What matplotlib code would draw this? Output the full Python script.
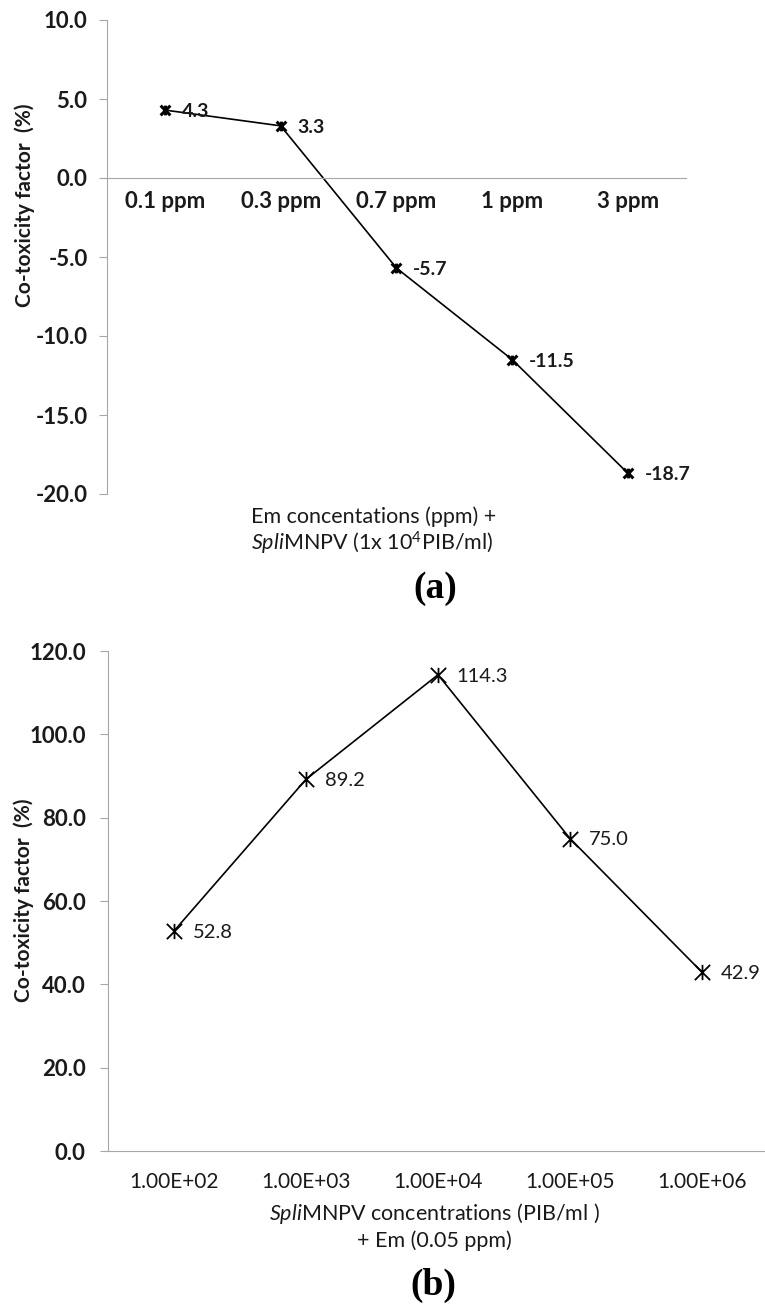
import numpy as np
import matplotlib
matplotlib.use("Agg")
import matplotlib.pyplot as plt
from matplotlib.path import Path

plt.rcParams['font.family'] = ['Lato', 'DejaVu Sans']
plt.rcParams['mathtext.fontset'] = 'custom'
plt.rcParams['mathtext.rm'] = 'Lato'
plt.rcParams['mathtext.it'] = 'Lato:italic'
plt.rcParams['mathtext.bf'] = 'Lato:bold'

# ---- data -------------------------------------------------------
em_labels = ["0.1 ppm", "0.3 ppm", "0.7 ppm", "1 ppm", "3 ppm"]
em_values = [4.3, 3.3, -5.7, -11.5, -18.7]

npv_labels = ["1.00E+02", "1.00E+03", "1.00E+04", "1.00E+05", "1.00E+06"]
npv_values = [52.8, 89.2, 114.3, 75.0, 42.9]

GREY = "#a6a6a6"
INK = "#1a1a1a"
W, H = 765, 1308

# Excel style star marker: an X with a vertical stroke through it
star = Path([(-1, -1), (1, 1), (-1, 1), (1, -1), (0, -1), (0, 1)],
            [Path.MOVETO, Path.LINETO, Path.MOVETO, Path.LINETO,
             Path.MOVETO, Path.LINETO])


def px_box(x0, y0, x1, y1):
    # pixel box (top-left origin) -> figure fraction rect
    return [x0 / W, 1 - y1 / H, (x1 - x0) / W, (y1 - y0) / H]


fig = plt.figure(figsize=(W / 100, H / 100), dpi=100)

# -------- PANEL (a) --------
ax1 = fig.add_axes(px_box(107, 20, 686, 494))
ax1.spines[["top", "right"]].set_visible(False)
ax1.spines["left"].set_color(GREY)
ax1.spines["bottom"].set_color(GREY)
ax1.spines["bottom"].set_position(("data", 0))

x = np.arange(len(em_values))
ax1.plot(x, em_values, color="black", lw=1.2, marker=star,
         markersize=7, markeredgewidth=2.2, markeredgecolor="black")
for xi, v in zip(x, em_values):
    ax1.annotate(f"{v:.1f}", (xi, v), xytext=(12, -1), textcoords="offset points",
                 ha="left", va="center", fontsize=14, fontweight="bold", color=INK)

ax1.set_xlim(-0.5, 4.5)
ax1.set_ylim(-20, 10)
yt = np.arange(-20, 10.1, 5)
ax1.set_yticks(yt)
ax1.set_yticklabels([f"{t:.1f}" for t in yt], fontsize=16, fontweight="bold", color=INK)
ax1.set_xticks(x)
ax1.set_xticklabels(em_labels, fontsize=16, fontweight="bold", color=INK)
ax1.tick_params(axis="x", length=0, pad=9)
ax1.tick_params(axis="y", length=6, color=GREY, pad=8)

fig.text(25 / W, 1 - 205 / H, "Co-toxicity factor  (%)", rotation=90,
         ha="center", va="center", fontsize=15, fontweight="bold", color=INK)
fig.text(374 / W, 1 - 517 / H, "Em concentations (ppm) +",
         ha="center", va="center", fontsize=15.5, color=INK)
fig.text(372 / W, 1 - 543 / H, r"$\it{Spli}$MNPV (1x 10$^{4}$PIB/ml)",
         ha="center", va="center", fontsize=15.5, color=INK)
fig.text(435 / W, 1 - 588 / H, "(a)", ha="center", va="center",
         fontsize=27, fontweight="bold", family="Liberation Serif")

# -------- PANEL (b) --------
ax2 = fig.add_axes(px_box(108, 651, 768, 1151))
ax2.spines[["top", "right"]].set_visible(False)
ax2.spines["left"].set_color(GREY)
ax2.spines["bottom"].set_color(GREY)

x = np.arange(len(npv_values))
ax2.plot(x, npv_values, color="black", lw=1.2, marker=star,
         markersize=11, markeredgewidth=1.3, markeredgecolor="black")
for xi, v in zip(x, npv_values):
    ax2.annotate(f"{v:.1f}", (xi, v), xytext=(13.5, -1), textcoords="offset points",
                 ha="left", va="center", fontsize=14.5, color=INK)

ax2.set_xlim(-0.5, 4.5)
ax2.set_ylim(0, 120)
yt = np.arange(0, 121, 20)
ax2.set_yticks(yt)
ax2.set_yticklabels([f"{t:.1f}" for t in yt], fontsize=16, fontweight="bold", color=INK)
ax2.set_xticks(x)
ax2.set_xticklabels(npv_labels, fontsize=15, color=INK)
ax2.tick_params(axis="x", length=0, pad=15)
ax2.tick_params(axis="y", length=6, color=GREY, pad=10)

fig.text(24 / W, 1 - 900 / H, "Co-toxicity factor  (%)", rotation=90,
         ha="center", va="center", fontsize=15, fontweight="bold", color=INK)
fig.text(434 / W, 1 - 1214 / H, r"$\it{Spli}$MNPV concentrations (PIB/ml )",
         ha="center", va="center", fontsize=15.5, color=INK)
fig.text(434 / W, 1 - 1241 / H, "+ Em (0.05 ppm)",
         ha="center", va="center", fontsize=15.5, color=INK)
fig.text(433 / W, 1 - 1285 / H, "(b)", ha="center", va="center",
         fontsize=27, fontweight="bold", family="Liberation Serif")

fig.savefig("out.png", dpi=100)
